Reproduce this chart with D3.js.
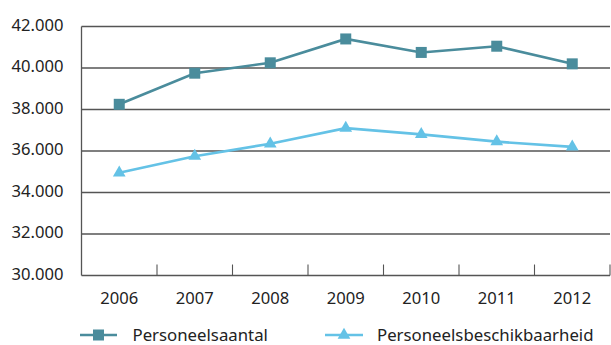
<!DOCTYPE html>
<html lang="nl">
	<head>
		<meta charset="utf-8">
		<title>personeel</title>
		<script type="text/javascript" src="https://d3js.org/d3.v7.min.js"></script>
		<style type="text/css">
            body{margin:0;background:#fff;font-family:"Noto Sans",sans-serif;}
            #chart1{width:611px;height:345px;}
		</style>
	</head>
	<body>
    <div id="chart1"></div>
		<script type="text/javascript">
            //data
            var years = ["2006","2007","2008","2009","2010","2011","2012"]
            var aantal = [38250,39750,40250,41400,40750,41050,40200]
            var beschikbaarheid = [34950,35750,36350,37100,36800,36450,36200]
            var yTicks = [30000,32000,34000,36000,38000,40000,42000]
            var seriesNames = ["Personeelsaantal","Personeelsbeschikbaarheid"]

            var w = 611
            var h = 345
            //note: "top" is taken by window.top, so use plot* names
            var plotLeft = 81.5
            var plotRight = 610
            var plotTop = 26.5
            var plotBottom = 275.5

            var teal = "#4a8c9c"
            var light = "#64c2e6"
            var gridColor = "#555"

            var svg = d3.select("#chart1")
                        .append("svg")
                        .attr("width",w)
                        .attr("height",h)

            var xScale = d3.scaleBand().domain(years).range([plotLeft,plotRight])
            var yScale = d3.scaleLinear().domain([30000,42000]).range([plotBottom,plotTop])

            //horizontal grid lines
            svg.selectAll("line.grid")
                .data(yTicks)
                .enter()
                .append("line")
                .attr("class","grid")
                .attr("x1",plotLeft)
                .attr("x2",plotRight)
                .attr("y1",function(d){ return yScale(d) })
                .attr("y2",function(d){ return yScale(d) })
                .attr("stroke",gridColor)
                .attr("stroke-width",1.3)

            //left axis line
            svg.append("line")
                .attr("x1",plotLeft).attr("x2",plotLeft)
                .attr("y1",plotTop).attr("y2",plotBottom)
                .attr("stroke",gridColor)
                .attr("stroke-width",1.3)

            //y labels with dutch thousand separator
            var fmt = d3.formatLocale({decimal:",",thousands:".",grouping:[3],currency:["€",""]}).format(",")
            svg.selectAll("text.ylab")
                .data(yTicks)
                .enter()
                .append("text")
                .attr("class","ylab")
                .attr("x",63.5)
                .attr("y",function(d){ return yScale(d)+4 })
                .attr("text-anchor","end")
                .attr("font-size","16.6px")
                .attr("fill","#222")
                .text(function(d){ return fmt(d) })

            //tick marks between the years, pointing up
            svg.selectAll("line.tick")
                .data(years)
                .enter()
                .append("line")
                .attr("class","tick")
                .attr("x1",function(d){ return xScale(d)+xScale.bandwidth() })
                .attr("x2",function(d){ return xScale(d)+xScale.bandwidth() })
                .attr("y1",plotBottom)
                .attr("y2",plotBottom-11)
                .attr("stroke",gridColor)
                .attr("stroke-width",1.1)

            //x labels
            svg.selectAll("text.xlab")
                .data(years)
                .enter()
                .append("text")
                .attr("class","xlab")
                .attr("x",function(d){ return xScale(d)+xScale.bandwidth()/2 })
                .attr("y",304)
                .attr("text-anchor","middle")
                .attr("font-size","16.6px")
                .attr("fill","#222")
                .text(function(d){ return d })

            var cx = function(d,i){ return xScale(years[i])+xScale.bandwidth()/2 }
            var line = d3.line()
                        .x(cx)
                        .y(function(d){ return yScale(d) })

            //first series, squares
            svg.append("path")
                .datum(aantal)
                .attr("d",line)
                .attr("fill","none")
                .attr("stroke",teal)
                .attr("stroke-width",2.6)
            svg.selectAll("rect.sq")
                .data(aantal)
                .enter()
                .append("rect")
                .attr("class","sq")
                .attr("x",function(d,i){ return cx(d,i)-5.5 })
                .attr("y",function(d){ return yScale(d)-5.5 })
                .attr("width",11)
                .attr("height",11)
                .attr("fill",teal)

            //second series, triangles
            var tri = d3.symbol().type(d3.symbolTriangle).size(70)
            svg.append("path")
                .datum(beschikbaarheid)
                .attr("d",line)
                .attr("fill","none")
                .attr("stroke",light)
                .attr("stroke-width",2.6)
            svg.selectAll("path.tri")
                .data(beschikbaarheid)
                .enter()
                .append("path")
                .attr("class","tri")
                .attr("d",tri)
                .attr("transform",function(d,i){ return "translate("+cx(d,i)+","+yScale(d)+")" })
                .attr("fill",light)

            //legend
            var legendY = 335
            var legend = [
                {x1:80,x2:117,tx:132.5,color:teal,shape:"square"},
                {x1:325,x2:363,tx:377,color:light,shape:"triangle"}
            ]
            legend.forEach(function(l,i){
                svg.append("line")
                    .attr("x1",l.x1).attr("x2",l.x2)
                    .attr("y1",legendY).attr("y2",legendY)
                    .attr("stroke",l.color)
                    .attr("stroke-width",2.6)
                var mid = (l.x1+l.x2)/2
                if(l.shape=="square"){
                    svg.append("rect")
                        .attr("x",mid-5.5).attr("y",legendY-5.5)
                        .attr("width",11).attr("height",11)
                        .attr("fill",l.color)
                }else{
                    svg.append("path")
                        .attr("d",tri)
                        .attr("transform","translate("+mid+","+legendY+")")
                        .attr("fill",l.color)
                }
                svg.append("text")
                    .attr("x",l.tx)
                    .attr("y",legendY+6)
                    .attr("font-size","16.8px")
                    .attr("fill","#222")
                    .text(seriesNames[i])
            })
        </script>
	</body>
</html>
